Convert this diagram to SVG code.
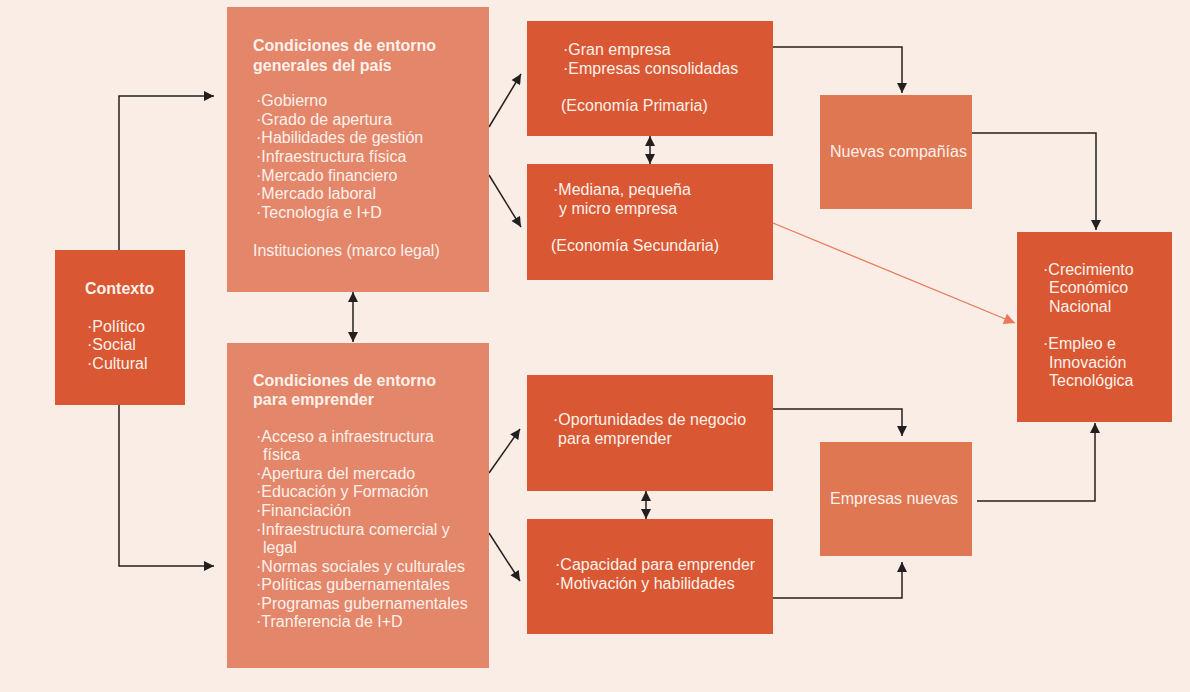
<svg xmlns="http://www.w3.org/2000/svg" width="1190" height="692" viewBox="0 0 1190 692">
<defs>
<style>
.bg{fill:#faede5}
.dark{fill:#d95733}
.light{fill:#e3866a}
.mid{fill:#df7753}
text{font-family:"Liberation Sans",Arial,sans-serif;fill:#fdf1ea;font-size:16px}
.b{font-weight:bold}
.ln{fill:none;stroke:#231f20;stroke-width:1.5}
.ol{fill:none;stroke:#e9795a;stroke-width:1.3}
</style>
<marker id="ah" viewBox="0 0 10 10" refX="10" refY="5" markerWidth="11" markerHeight="10" markerUnits="userSpaceOnUse" orient="auto-start-reverse">
<path d="M0,0 L10,5 L0,10 z" fill="#231f20"/>
</marker>
<marker id="ao" viewBox="0 0 10 10" refX="10" refY="5" markerWidth="14" markerHeight="11" markerUnits="userSpaceOnUse" orient="auto">
<path d="M0,0 L10,5 L0,10 z" fill="#e9795a"/>
</marker>
</defs>
<rect class="bg" x="0" y="0" width="1190" height="692"/>

<g id="connectors">
<polyline class="ln" points="119,250 119,96 214,96" marker-end="url(#ah)"/>
<polyline class="ln" points="119,405 119,566 214,566" marker-end="url(#ah)"/>
<line class="ln" x1="353" y1="292" x2="353" y2="342" marker-start="url(#ah)" marker-end="url(#ah)"/>
<line class="ln" x1="489" y1="127" x2="521" y2="74" marker-end="url(#ah)"/>
<line class="ln" x1="489" y1="175" x2="521" y2="227" marker-end="url(#ah)"/>
<line class="ln" x1="489" y1="473" x2="520" y2="429" marker-end="url(#ah)"/>
<line class="ln" x1="489" y1="533" x2="520" y2="581" marker-end="url(#ah)"/>
<line class="ln" x1="650" y1="136" x2="650" y2="164" marker-start="url(#ah)" marker-end="url(#ah)"/>
<line class="ln" x1="646" y1="491" x2="646" y2="519" marker-start="url(#ah)" marker-end="url(#ah)"/>
<polyline class="ln" points="773,47 902,47 902,93" marker-end="url(#ah)"/>
<polyline class="ln" points="972,133 1096,133 1096,230" marker-end="url(#ah)"/>
<line class="ol" x1="773" y1="223" x2="1015" y2="323" marker-end="url(#ao)"/>
<polyline class="ln" points="773,409 902,409 902,436" marker-end="url(#ah)"/>
<polyline class="ln" points="773,598 902,598 902,562" marker-end="url(#ah)"/>
<polyline class="ln" points="977,501 1095,501 1095,423" marker-end="url(#ah)"/>
</g>

<g id="contexto">
<rect class="dark" x="55" y="250" width="130" height="155"/>
<text class="b" x="85" y="294">Contexto</text>
<text x="87" y="332">·Político</text>
<text x="87" y="350">·Social</text>
<text x="87" y="369">·Cultural</text>
</g>

<g id="generales">
<rect class="light" x="227" y="7" width="262" height="285"/>
<text class="b" x="253" y="51">Condiciones de entorno</text>
<text class="b" x="253" y="71">generales del país</text>
<text x="256" y="106">·Gobierno</text>
<text x="256" y="125">·Grado de apertura</text>
<text x="256" y="143">·Habilidades de gestión</text>
<text x="256" y="162">·Infraestructura física</text>
<text x="256" y="181">·Mercado financiero</text>
<text x="256" y="199">·Mercado laboral</text>
<text x="256" y="218">·Tecnología e I+D</text>
<text x="253" y="256">Instituciones (marco legal)</text>
</g>

<g id="emprender">
<rect class="light" x="227" y="343" width="262" height="325"/>
<text class="b" x="253" y="386">Condiciones de entorno</text>
<text class="b" x="253" y="405">para emprender</text>
<text x="256" y="442">·Acceso a infraestructura</text>
<text x="263" y="460">física</text>
<text x="256" y="479">·Apertura del mercado</text>
<text x="256" y="497">·Educación y Formación</text>
<text x="256" y="516">·Financiación</text>
<text x="256" y="535">·Infraestructura comercial y</text>
<text x="263" y="553">legal</text>
<text x="256" y="572">·Normas sociales y culturales</text>
<text x="256" y="590">·Políticas gubernamentales</text>
<text x="256" y="609">·Programas gubernamentales</text>
<text x="256" y="627">·Tranferencia de I+D</text>
</g>

<g id="primaria">
<rect class="dark" x="527" y="21" width="246" height="115"/>
<text x="563" y="55">·Gran empresa</text>
<text x="563" y="74">·Empresas consolidadas</text>
<text x="561" y="111">(Economía Primaria)</text>
</g>

<g id="secundaria">
<rect class="dark" x="527" y="164" width="246" height="116"/>
<text x="553" y="195">·Mediana, pequeña</text>
<text x="559" y="214">y micro empresa</text>
<text x="551" y="251">(Economía Secundaria)</text>
</g>

<g id="oportunidades">
<rect class="dark" x="527" y="375" width="246" height="116"/>
<text x="553" y="425">·Oportunidades de negocio</text>
<text x="558" y="444">para emprender</text>
</g>

<g id="capacidad">
<rect class="dark" x="527" y="519" width="246" height="115"/>
<text x="555" y="570">·Capacidad para emprender</text>
<text x="555" y="589">·Motivación y habilidades</text>
</g>

<g id="nuevas-companias">
<rect class="mid" x="820" y="95" width="152" height="114"/>
<text x="830" y="157">Nuevas compañías</text>
</g>

<g id="empresas-nuevas">
<rect class="mid" x="820" y="442" width="152" height="114"/>
<text x="830" y="504">Empresas nuevas</text>
</g>

<g id="crecimiento">
<rect class="dark" x="1017" y="232" width="155" height="190"/>
<text x="1043" y="275">·Crecimiento</text>
<text x="1049" y="293">Económico</text>
<text x="1049" y="312">Nacional</text>
<text x="1043" y="349">·Empleo e</text>
<text x="1049" y="368">Innovación</text>
<text x="1049" y="386">Tecnológica</text>
</g>
</svg>
